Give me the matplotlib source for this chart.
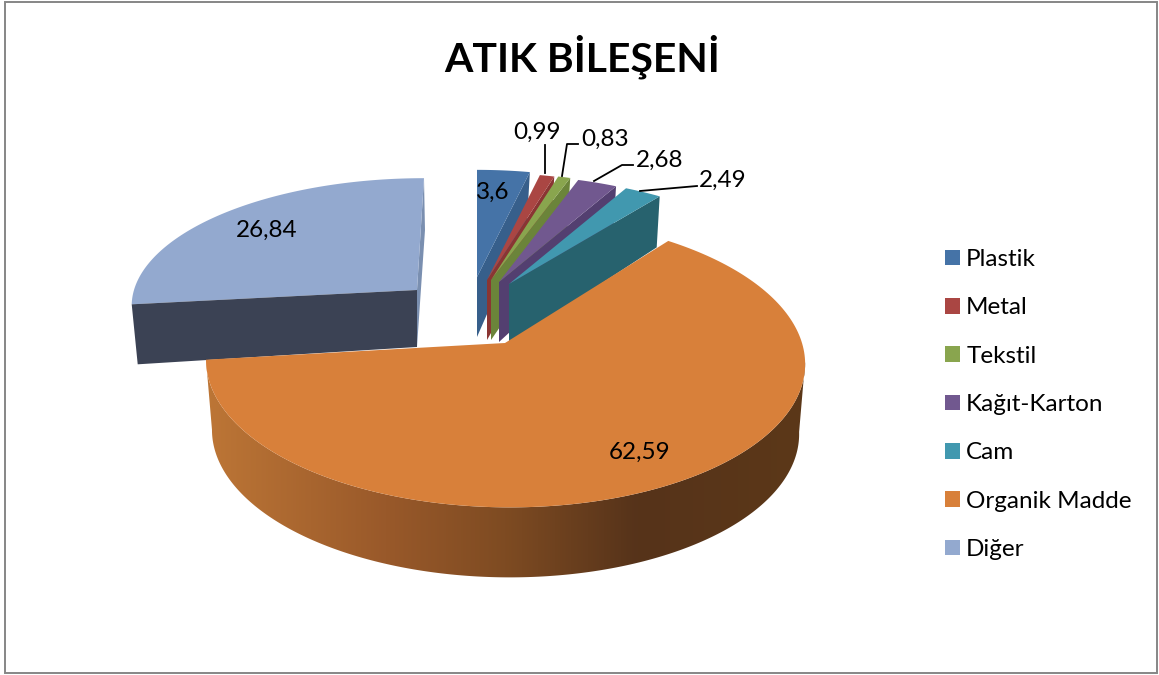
import numpy as np
import matplotlib
matplotlib.use("Agg")
import matplotlib.pyplot as plt
from matplotlib.patches import Polygon, Patch, Rectangle
from matplotlib.colors import LinearSegmentedColormap

plt.rcParams['font.family'] = ['Lato', 'DejaVu Sans']

# --- Data ---
categories = ['Plastik', 'Metal', 'Tekstil', 'Kağıt-Karton', 'Cam', 'Organik Madde', 'Diğer']
values = [3.6, 0.99, 0.83, 2.68, 2.49, 62.59, 26.84]
top_colors = ['#4573a7', '#aa4643', '#89a54e', '#71588f', '#4198af', '#d8803a', '#93a9cf']
wall_colors = ['#375f8b', '#8a3533', '#6b843a', '#533f70', '#27626e', '#8a5226', '#3b4254']

# --- Layout of each slice, in pixels (apex x, apex y, rx, ry, perspective, shear) ---
small = dict(rx=286, ry=130.5, k=0.218, shear=0)
slice_geom = [
    dict(ax=477, ay=277, **small),
    dict(ax=487, ay=280, **small),
    dict(ax=491, ay=280, **small),
    dict(ax=499, ay=282, **small),
    dict(ax=509, ay=284, **small),
    dict(ax=505, ay=343, rx=297, ry=143, k=0.13, shear=-0.03),
    dict(ax=417, ay=290, rx=283, ry=123, k=0.10, shear=0.0625),
]

edges = np.cumsum([0] + values) / sum(values) * 360


def arc(g, t0, t1, n=200):
    t = np.radians(np.linspace(t0, t1, n))
    den = 1 + g['k'] * np.cos(t)
    x = g['ax'] + g['rx'] * np.sin(t) / den + g['shear'] * g['ry'] * np.cos(t) / den
    y = g['ay'] - g['ry'] * np.cos(t) / den
    return np.column_stack([x, y])


def top_face(i):
    g = slice_geom[i]
    return np.vstack([[g['ax'], g['ay']], arc(g, edges[i], edges[i + 1])])


# --- Figure in pixel coordinates ---
fig = plt.figure(figsize=(11.59, 6.75), dpi=100)
ax = fig.add_axes([0, 0, 1, 1])
ax.set_xlim(0, 1159)
ax.set_ylim(675, 0)
ax.axis('off')
ax.add_patch(Rectangle((5, 2), 1152, 671, fc='white', ec='#868686', lw=1.4, zorder=0))

# --- Diğer (pulled out to the back left) ---
g = slice_geom[6]
far = arc(g, 360, 360, 1)[0]
left = arc(g, edges[6], edges[6], 1)[0]
ax.add_patch(Polygon([(g['ax'], g['ay']), far, far + (1, 52), (g['ax'], g['ay'] + 57)],
                     fc='#7a8fb0', ec='none', zorder=1))
ax.add_patch(Polygon(top_face(6), fc=top_colors[6], ec='none', zorder=2))
ax.add_patch(Polygon([(g['ax'], g['ay']), left, left + (6, 60), (g['ax'], g['ay'] + 57)],
                     fc=wall_colors[6], ec='none', zorder=3))

# --- Small slices, back to front ---
for i in range(5):
    g = slice_geom[i]
    corner = arc(g, edges[i + 1], edges[i + 1], 1)[0]
    ax.add_patch(Polygon([(g['ax'], g['ay']), corner, corner + (-3, 51), (g['ax'], g['ay'] + 60)],
                         fc=wall_colors[i], ec='none', zorder=4 + 2 * i))
    ax.add_patch(Polygon(top_face(i), fc=top_colors[i], ec='none', zorder=5 + 2 * i))

# --- Organik Madde wall with left to right shading ---
g = slice_geom[5]
rim = arc(g, 97.5, edges[6], 300)  # starts where the rim is widest on the right
rim_low = np.column_stack([g['ax'] + (rim[:, 0] - g['ax']) * 0.98, rim[:, 1] + 70])
wall = Polygon(np.vstack([rim, rim_low[::-1]]), fc='none', ec='none', transform=ax.transData)
ax.add_patch(wall)
wall_cmap = LinearSegmentedColormap.from_list(
    'wall', [(0, '#bd7636'), (0.3, '#99592a'), (0.5, '#7e4b22'), (0.72, '#56331a'), (1, '#5c3818')])
im = ax.imshow(np.linspace(0, 1, 256).reshape(1, -1), cmap=wall_cmap, aspect='auto',
               extent=(205, 806, 590, 340), zorder=20)
im.set_clip_path(wall)
ax.set_xlim(0, 1159)
ax.set_ylim(675, 0)
ax.add_patch(Polygon(top_face(5), fc=top_colors[5], ec='none', zorder=21))

# --- Title ---
ax.text(582, 57, 'ATIK BİLEŞENİ', fontsize=29.4, fontweight='bold', ha='center', va='center',
        color='black', zorder=30)

# --- Data labels ---
label_pos = [(493, 192), (537, 132), (605, 139), (660, 160), (723, 180), (640, 452), (267, 230)]
for v, (lx, ly) in zip(values, label_pos):
    ax.text(lx, ly, str(v).replace('.', ','), fontsize=17.5, ha='center', va='center',
            color='black', zorder=30)

leaders = [
    [(545, 145), (545, 173)],
    [(578, 144), (567, 144), (562, 176)],
    [(633, 165), (622, 165), (594, 181)],
    [(697, 186), (640, 191)],
]
for pts in leaders:
    xs, ys = zip(*pts)
    ax.plot(xs, ys, color='black', lw=1.3, zorder=29)

# --- Legend ---
handles = [Patch(fc=c, ec='none') for c in top_colors]
ax.legend(handles, categories, loc='upper left', bbox_to_anchor=(945 / 1159, 1 - 249 / 675),
          frameon=False, fontsize=17.5, labelspacing=1.125, handlelength=0.62, handleheight=0.62,
          handletextpad=0.25, borderpad=0, borderaxespad=0)

fig.savefig('out.png', dpi=100)
plt.close()
